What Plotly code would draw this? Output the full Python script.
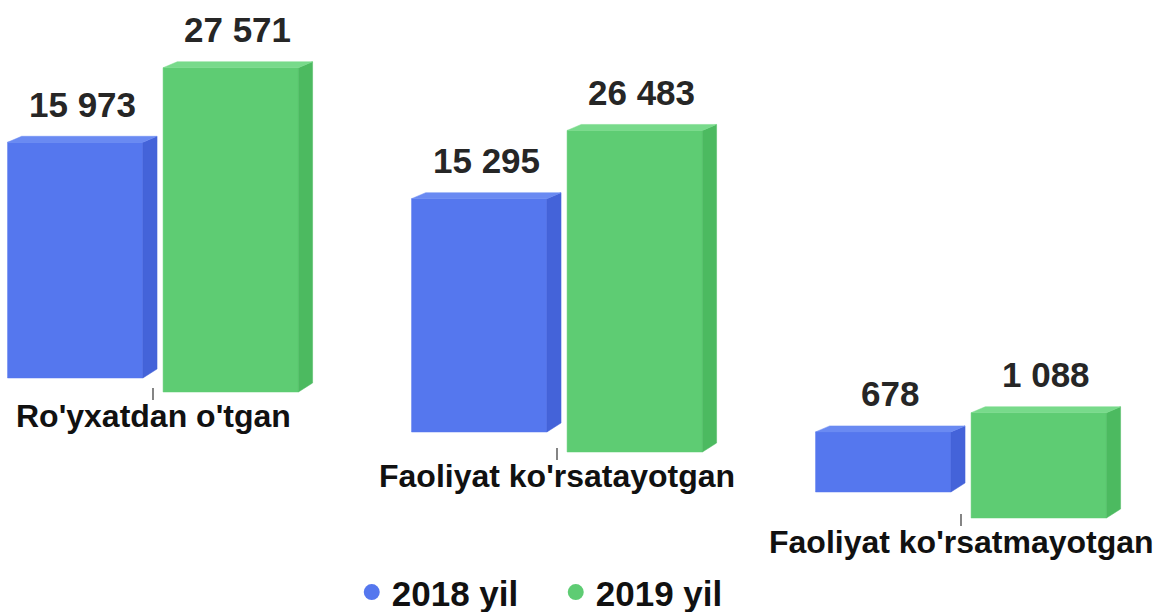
import math
import plotly.graph_objects as go

categories = ["Ro'yxatdan o'tgan", "Faoliyat ko'rsatayotgan", "Faoliyat ko'rsatmayotgan"]
years = ["2018 yil", "2019 yil"]
values_2018 = [15973, 15295, 678]
values_2019 = [27571, 26483, 1088]

W, H = 1159, 612
FONT = "Liberation Sans, Arial, sans-serif"

# front / side / top colours for the fake 3d look
colors = {
    "2018 yil": ("#5577ee", "#4463d9", "#6a8af2"),
    "2019 yil": ("#5ecc73", "#4cba60", "#78da8b"),
}

# perspective: the floor drops towards the right and the 2019 row sits nearer,
# so every bar gets its own foot line and each row its own log scale
floor_px = {"2018 yil": [378, 432, 492], "2019 yil": [392, 452, 518]}
px_per_decade = {"2018 yil": 128, "2019 yil": 156}
BASE = 230                   # value at the foot of the bars
PAD = 20                     # px kept below the foot for the category tick
DOM = 0.62

UNIT = 404                   # px per category on the x axis
X0_PX = 153
front_x = {"2018 yil": (-0.36, -0.025), "2019 yil": (0.025, 0.36)}
SIDE = 0.035

fig = go.Figure()
axes = {}
annotations = []
n = 0
for year, vals in zip(years, [values_2018, values_2019]):
    c_front, c_side, c_top = colors[year]
    a = px_per_decade[year]
    k_top = 10 ** (6 / a)
    k_bot = 10 ** (9 / a)
    for i, v in enumerate(vals):
        n += 1
        yname = "y" if n == 1 else f"y{n}"
        key = "yaxis" if n == 1 else f"yaxis{n}"
        bottom = 1 - (floor_px[year][i] + PAD) / H
        lo = math.log10(BASE) - PAD / a
        axes[key] = dict(type="log", domain=[bottom, bottom + DOM], anchor="x",
                         range=[lo, lo + DOM * H / a],
                         visible=False, fixedrange=True)
        x0 = i + front_x[year][0]
        x1 = i + front_x[year][1]
        faces = [
            ([x0, x1, x1, x0, x0], [BASE, BASE, v, v, BASE], c_front),
            ([x1, x1 + SIDE, x1 + SIDE, x1, x1], [BASE, BASE * k_bot, v * k_top, v, BASE], c_side),
            ([x0, x1, x1 + SIDE, x0 + SIDE, x0], [v, v, v * k_top, v * k_top, v], c_top),
        ]
        for fx, fy, col in faces:
            fig.add_trace(go.Scatter(
                x=fx, y=fy, yaxis=yname, mode="lines", fill="toself",
                fillcolor=col, line=dict(color=col, width=0.5),
                hoverinfo="skip", showlegend=False))
        annotations.append(dict(
            x=(x0 + x1 + SIDE) / 2, y=math.log10(v), xref="x", yref=yname,
            yshift=38, showarrow=False, yanchor="middle",
            text=f"{v:,}".replace(",", " "),
            font=dict(family=FONT, size=35, color="#262626", weight="bold")))
        if year == "2019 yil":
            annotations.append(dict(
                x=i, y=math.log10(BASE), xref="x", yref=yname, yshift=-24,
                showarrow=False, yanchor="middle", text=categories[i],
                font=dict(family=FONT, size=32, color="#111111", weight="bold")))
            # small category tick just above the label
            fig.add_trace(go.Scatter(
                x=[i, i], y=[BASE / 10 ** (8 / a), BASE * 10 ** (4 / a)],
                yaxis=yname, mode="lines", line=dict(color="#333333", width=1.2),
                hoverinfo="skip", showlegend=False))

# legend entries
for year in years:
    fig.add_trace(go.Scatter(
        x=[None], y=[None], mode="markers", name=year,
        marker=dict(symbol="circle", size=20, color=colors[year][0])))

fig.update_layout(
    width=W, height=H, autosize=False,
    margin=dict(l=0, r=0, t=0, b=0, autoexpand=False),
    paper_bgcolor="white", plot_bgcolor="rgba(0,0,0,0)",
    xaxis=dict(range=[-X0_PX / UNIT, (W - X0_PX) / UNIT], domain=[0, 1],
               visible=False, fixedrange=True),
    annotations=annotations,
    showlegend=True,
    legend=dict(orientation="h", x=0.4795, xanchor="center", y=-0.016, yanchor="bottom",
                font=dict(family=FONT, size=35, color="#111111", weight="bold"),
                entrywidth=159, bgcolor="rgba(0,0,0,0)"),
)
fig.update_layout(**axes)

fig.write_html("out.html", config={"displayModeBar": False},
               post_script="document.body.style.margin='0';")
